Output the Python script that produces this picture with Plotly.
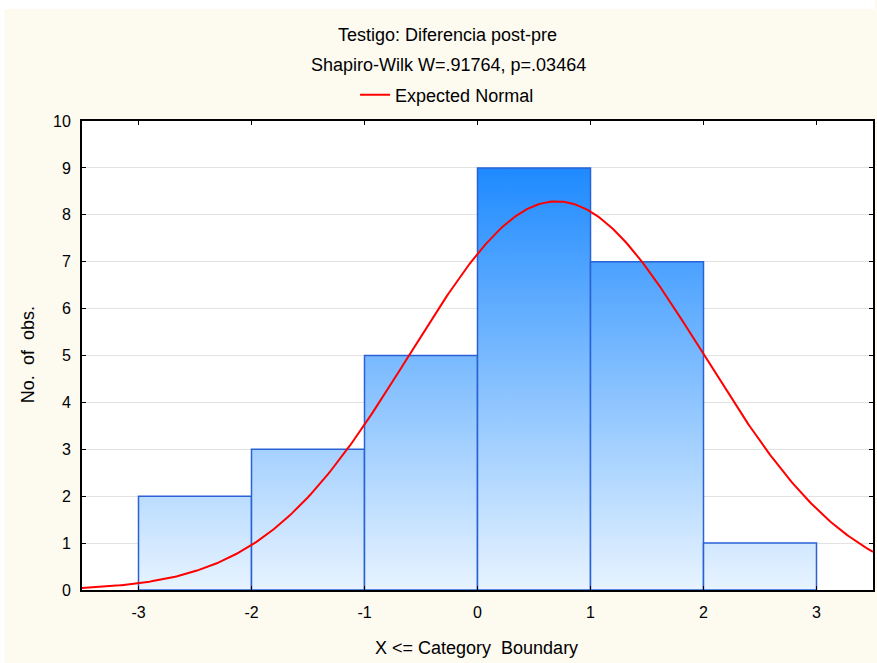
import plotly.graph_objects as go
import numpy as np

# ---- data ----
bin_left = [-3, -2, -1, 0, 1, 2]
bin_right = [-2, -1, 0, 1, 2, 3]
counts = [2, 3, 5, 9, 7, 1]
x_ticks = [-3, -2, -1, 0, 1, 2, 3]
y_ticks = [0, 1, 2, 3, 4, 5, 6, 7, 8, 9, 10]
# expected normal parameters
norm_mean = 0.70
norm_sd = 1.30
n_obs = sum(counts)
bin_width = 1.0

title1 = "Testigo: Diferencia post-pre"
title2 = "Shapiro-Wilk W=.91764, p=.03464"
legend_name = "Expected Normal"
x_title = "X <= Category  Boundary"
y_title = "No.  of  obs."

FONT = "Liberation Sans, Arial, sans-serif"
CREAM = "#FDFAF0"

fig = go.Figure()

grad = dict(type="vertical", start=0, stop=max(counts),
            colorscale=[[0, "#E8F4FF"], [1, "#1E8AFF"]])
for l, r, c in zip(bin_left, bin_right, counts):
    fig.add_trace(go.Scatter(
        x=[l, l, r, r, l], y=[0, c, c, 0, 0], mode="lines",
        fill="toself", fillgradient=grad,
        line=dict(color="#2A62D6", width=1.5),
        showlegend=False, hoverinfo="skip"))

xs = np.linspace(-3.5, 3.5, 400)
ys = n_obs * bin_width / (norm_sd * np.sqrt(2 * np.pi)) * np.exp(-0.5 * ((xs - norm_mean) / norm_sd) ** 2)
fig.add_trace(go.Scatter(x=xs, y=ys, mode="lines", name=legend_name,
                         line=dict(color="#FF0000", width=2)))

W, H = 877, 663
L, R, T, B = 82, 875, 121, 590
pw, ph = R - L, B - T

def px(xp):
    return (xp - L) / pw

def py(yp):
    return (B - yp) / ph

fig.update_layout(
    width=W, height=H,
    margin=dict(l=L, r=W - R, t=T, b=H - B, pad=0),
    paper_bgcolor=CREAM, plot_bgcolor="white",
    font=dict(family=FONT, size=16, color="black"),
    showlegend=True,
    legend=dict(x=px(448), y=py(95), xanchor="center", yanchor="middle",
                orientation="h", bgcolor="rgba(0,0,0,0)", itemwidth=30,
                font=dict(family=FONT, size=18)),
    xaxis=dict(range=[-3.5, 3.5], tickvals=x_ticks, ticktext=[str(v) for v in x_ticks],
               showgrid=False, zeroline=False, showline=True, linecolor="black", linewidth=2,
               mirror="ticks", ticks="inside", ticklen=4, tickcolor="black", tickwidth=1,
               ticklabelstandoff=7, tickfont=dict(size=16)),
    yaxis=dict(range=[0, 10], tickvals=y_ticks, ticktext=[str(v) for v in y_ticks],
               showgrid=True, gridcolor="#E2E2E2", gridwidth=1, zeroline=False,
               showline=True, linecolor="black", linewidth=2,
               mirror="ticks", ticks="inside", ticklen=4, tickcolor="black", tickwidth=1,
               ticklabelstandoff=6, tickfont=dict(size=16)),
    shapes=[
        dict(type="rect", xref="paper", yref="paper", x0=px(0), x1=px(W), y0=py(9), y1=py(0),
             fillcolor="white", line=dict(width=0), layer="below"),
        dict(type="rect", xref="paper", yref="paper", x0=px(0), x1=px(4), y0=py(H), y1=py(0),
             fillcolor="white", line=dict(width=0), layer="below"),
    ],
    annotations=[
        dict(text=title1, x=px(448), y=py(35), xref="paper", yref="paper",
             xanchor="center", yanchor="middle", showarrow=False, font=dict(size=18)),
        dict(text=title2, x=px(449), y=py(65), xref="paper", yref="paper",
             xanchor="center", yanchor="middle", showarrow=False, font=dict(size=18)),
        dict(text=x_title, x=px(477), y=py(648), xref="paper", yref="paper",
             xanchor="center", yanchor="middle", showarrow=False, font=dict(size=18)),
        dict(text=y_title, x=px(28), y=py(355), xref="paper", yref="paper",
             xanchor="center", yanchor="middle", showarrow=False, textangle=-90,
             font=dict(size=18)),
    ],
)

fig.write_html("out.html")
